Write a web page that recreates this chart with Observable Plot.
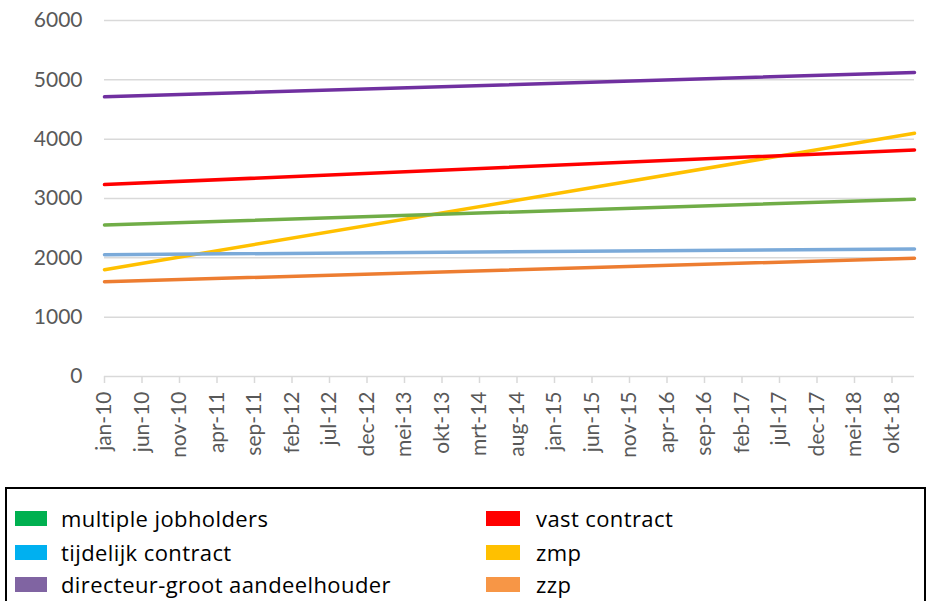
<!DOCTYPE html>
<html>
<head>
<meta charset="utf-8">
<script src="https://cdn.jsdelivr.net/npm/d3@7"></script>
<script src="https://cdn.jsdelivr.net/npm/@observablehq/plot@0.6"></script>
<style>
  html, body { margin: 0; padding: 0; background: #fff; }
  #wrap { position: relative; width: 931px; height: 601px; overflow: hidden; }
  #legend { position: absolute; left: 5px; top: 487px; width: 921px; height: 130px;
            border: 2px solid #000; box-sizing: border-box; font-family: "Open Sans", sans-serif; }
  .item { position: absolute; display: flex; align-items: center; font-size: 22px; letter-spacing: 0.4px; color: #000; white-space: nowrap; }
  .sw { width: 32px; height: 15px; margin-right: 14px; }
</style>
</head>
<body>
<div id="wrap"><div id="chart"></div><div id="legend"></div></div>
<script>
// Tick labels, every 5 months from jan-10
const xTickLabels = ["jan-10","jun-10","nov-10","apr-11","sep-11","feb-12","jul-12","dec-12",
  "mei-13","okt-13","mrt-14","aug-14","jan-15","jun-15","nov-15","apr-16","sep-16","feb-17",
  "jul-17","dec-17","mei-18","okt-18"];
const yTicks = [0, 1000, 2000, 3000, 4000, 5000, 6000];

// Series (straight trend lines): value at jan-10 (month 0) and at end (month 108)
const seriesNames = ["multiple jobholders", "tijdelijk contract", "directeur-groot aandeelhouder",
  "vast contract", "zmp", "zzp"];
const valuesStart = [2554, 2053, 4713, 3234, 1800, 1597];
const valuesEnd   = [2988, 2150, 5123, 3819, 4099, 1993];
const startMonth = 0;
const endMonth = 108;

const lineColors   = ["#70AD47", "#7BAAD9", "#7030A0", "#FF0000", "#FFC000", "#ED7D31"];
const legendColors = ["#00B050", "#00B0F0", "#8064A2", "#FF0000", "#FFC000", "#F79646"];
const drawOrder = ["zmp", "multiple jobholders", "tijdelijk contract", "directeur-groot aandeelhouder", "vast contract", "zzp"];

const data = [];
for (const name of drawOrder) {
  const i = seriesNames.indexOf(name);
  data.push({series: name, month: startMonth, value: valuesStart[i]});
  data.push({series: name, month: endMonth, value: valuesEnd[i]});
}

const chart = Plot.plot({
  width: 931,
  height: 482,
  marginLeft: 104,
  marginRight: 17,
  marginTop: 20,
  marginBottom: 106,
  style: {fontFamily: "Lato, sans-serif", fontSize: "21px", color: "#595959", background: "#fff"},
  x: {domain: [0, 108]},
  y: {domain: [0, 6000]},
  color: {domain: seriesNames, range: lineColors},
  marks: [
    Plot.gridY(yTicks.filter(d => d > 0), {stroke: "#d9d9d9", strokeOpacity: 1, strokeWidth: 1.5}),
    Plot.ruleY([0], {stroke: "#d9d9d9", strokeWidth: 1.5}),
    Plot.axisY({ticks: yTicks, tickSize: 0, tickPadding: 22, label: null, tickFormat: d => String(d)}),
    Plot.axisX({ticks: xTickLabels.map((_, i) => i * 5), tickFormat: d => xTickLabels[d / 5],
      tickRotate: -90, tickSize: 7, tickPadding: 8, stroke: "#d9d9d9", strokeWidth: 1.5, label: null}),
    Plot.line(data, {x: "month", y: "value", z: "series", stroke: "series", strokeWidth: 3.5, strokeLinecap: "round"})
  ]
});
document.getElementById("chart").appendChild(chart);

// Legend (boxed, two columns, filled row by row)
const legend = document.getElementById("legend");
const legendOrder = ["multiple jobholders", "vast contract", "tijdelijk contract", "zmp", "directeur-groot aandeelhouder", "zzp"];
const rowTops = [29, 63, 95];
const colLefts = [8, 479];
legendOrder.forEach((name, k) => {
  const i = seriesNames.indexOf(name);
  const el = document.createElement("div");
  el.className = "item";
  el.style.left = colLefts[k % 2] + "px";
  el.style.top = (rowTops[Math.floor(k / 2)] - 16) + "px";
  el.style.height = "32px";
  const sw = document.createElement("div");
  sw.className = "sw";
  sw.style.background = legendColors[i];
  if (k % 2 === 1) { sw.style.width = "34px"; sw.style.marginRight = "16px"; }
  const tx = document.createElement("span");
  tx.textContent = name;
  el.appendChild(sw);
  el.appendChild(tx);
  legend.appendChild(el);
});
</script>
</body>
</html>
